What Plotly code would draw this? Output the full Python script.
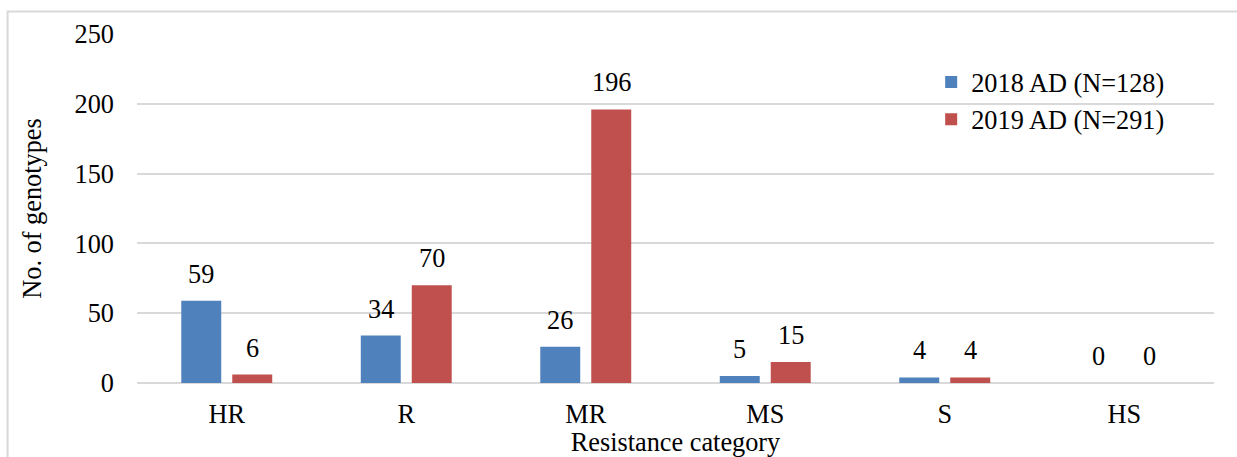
import plotly.graph_objects as go

categories = ["HR", "R", "MR", "MS", "S", "HS"]
series_names = ["2018 AD (N=128)", "2019 AD (N=291)"]
values_2018 = [59, 34, 26, 5, 4, 0]
values_2019 = [6, 70, 196, 15, 4, 0]
y_ticks = [0, 50, 100, 150, 200, 250]

FONT = "Liberation Serif, Times New Roman, serif"
FS = 26.3
BLUE = "#4F81BD"
RED = "#C0504D"
GRID = "#D9D9D9"

fig = go.Figure()
for name, vals, color in [(series_names[0], values_2018, BLUE),
                          (series_names[1], values_2019, RED)]:
    fig.add_trace(go.Bar(name=name, x=categories, y=vals,
                         marker=dict(color=color, line=dict(width=0))))

# value labels above each bar
for vals, shift in [(values_2018, -25.5), (values_2019, 25.5)]:
    for cat, v in zip(categories, vals):
        fig.add_annotation(x=cat, y=v, text=str(v), showarrow=False,
                           xshift=shift, yshift=10, yanchor="bottom",
                           font=dict(family=FONT, size=FS, color="black"))

# outer chart frame
fig.add_shape(type="rect", xref="paper", yref="paper",
              x0=-0.1202, x1=1.03, y0=-0.25, y1=1.0645,
              line=dict(color=GRID, width=2), fillcolor="rgba(0,0,0,0)")

fig.update_layout(
    width=1237, height=457,
    margin=dict(l=137, r=23, t=34, b=74),
    paper_bgcolor="white", plot_bgcolor="white",
    barmode="group", bargap=0.432, bargroupgap=0.216,
    font=dict(family=FONT, size=FS, color="black"),
    showlegend=True,
    legend=dict(x=0.7374, y=0.93, xanchor="left", yanchor="top",
                font=dict(family=FONT, size=FS, color="black"),
                bgcolor="rgba(0,0,0,0)", itemwidth=30, tracegroupgap=0),
    xaxis=dict(showgrid=False, showline=False, zeroline=False, ticks="",
               ticklabelstandoff=13, automargin=False,
               title=dict(text="Resistance category", standoff=5,
                          font=dict(family=FONT, size=FS))),
    yaxis=dict(range=[0, 250], tickvals=y_ticks, showgrid=True,
               gridcolor=GRID, gridwidth=2, zeroline=True,
               zerolinecolor=GRID, zerolinewidth=2, showline=False,
               ticks="", ticklabelstandoff=22, automargin=False,
               title=dict(text="No. of genotypes", standoff=25,
                          font=dict(family=FONT, size=FS))),
)

fig.write_html("out.html")
